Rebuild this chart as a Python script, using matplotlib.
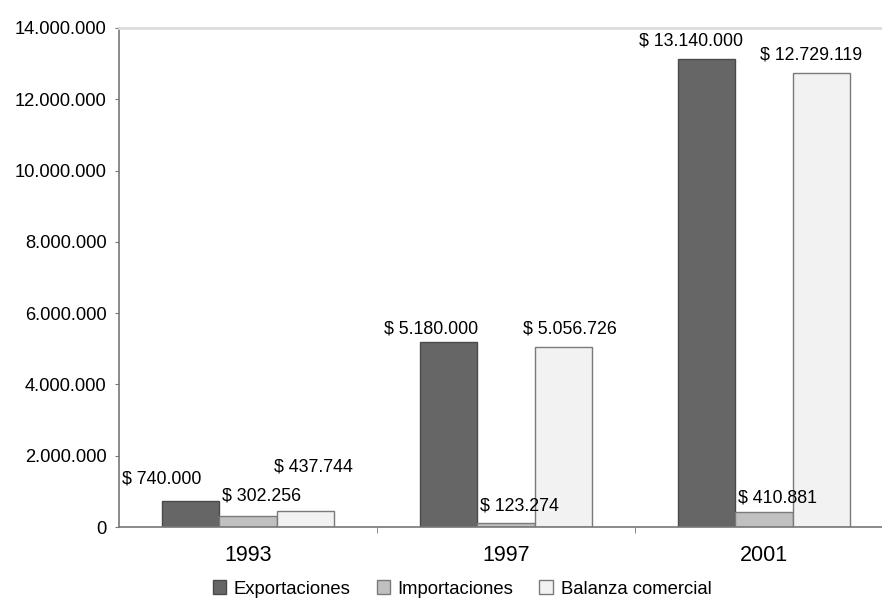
import matplotlib
matplotlib.use("Agg")
import matplotlib.pyplot as plt
from matplotlib.ticker import FuncFormatter, MultipleLocator
import numpy as np

years = ["1993", "1997", "2001"]
series_names = ["Exportaciones", "Importaciones", "Balanza comercial"]
exportaciones = [740000, 5180000, 13140000]
importaciones = [302256, 123274, 410881]
balanza = [437744, 5056726, 12729119]

colors = ["#666666", "#c0c0c0", "#f2f2f2"]
edges = ["#4a4a4a", "#7a7a7a", "#7a7a7a"]
# label offsets (pixels) relative to bar top-centre, per series per year
label_offsets = [
    [(-29, 22), (-17, 13), (-15, 18)],
    [(14, 20), (13, 17), (13, 14)],
    [(8, 44), (6, 18), (-10, 18)],
]

def fmt_thousands(v):
    return f"{int(round(v)):,}".replace(",", ".")

plt.rcParams["font.family"] = ["Liberation Sans", "DejaVu Sans"]

fig = plt.figure(figsize=(8.82, 6.01), dpi=100)
W, H = 882, 601
left, right, top, bottom = 119, 882, 28, 527
ax = fig.add_axes([left / W, 1 - bottom / H, (right - left) / W, (bottom - top) / H])

x = np.arange(len(years))
bw = 0.223
all_series = [exportaciones, importaciones, balanza]
for i, (vals, name) in enumerate(zip(all_series, series_names)):
    xs = x + (i - 1) * bw
    bars = ax.bar(xs, vals, width=bw, color=colors[i], edgecolor=edges[i],
                  linewidth=1.0, label=name, zorder=2)
    for j, (b, v) in enumerate(zip(bars, vals)):
        dx, dy = label_offsets[i][j]
        ax.annotate("$ " + fmt_thousands(v),
                    xy=(b.get_x() + b.get_width() / 2, v),
                    xytext=(dx, dy), textcoords="offset pixels",
                    ha="center", va="center", fontsize=12.8,
                    color="#000000", zorder=3)

ax.set_ylim(0, 14000000)
ax.set_xlim(-0.5, -0.5 + (right - left) / 258.0)
ax.yaxis.set_major_locator(MultipleLocator(2000000))
ax.yaxis.set_major_formatter(FuncFormatter(lambda v, p: fmt_thousands(v)))
ax.set_xticks(x)
ax.set_xticklabels(years)
ax.set_xticks([0.5, 1.5], minor=True)
ax.tick_params(axis="x", which="major", length=0, pad=13, labelsize=15.5, colors="#000000")
ax.tick_params(axis="x", which="minor", length=4, direction="out", color="#777777")
ax.tick_params(axis="y", length=3, direction="out", color="#777777", pad=6,
               labelsize=13.2, labelcolor="#000000")

ax.spines["right"].set_visible(False)
ax.spines["top"].set_color("#dddddd")
ax.spines["top"].set_linewidth(2)
ax.spines["left"].set_color("#777777")
ax.spines["bottom"].set_color("#777777")
ax.spines["left"].set_linewidth(1.2)
ax.spines["bottom"].set_linewidth(1.2)

leg = fig.legend(loc="center", bbox_to_anchor=(462 / W, 1 - 589 / H), ncol=3,
                 frameon=False, fontsize=13.3, handlelength=0.75, handleheight=0.75,
                 handletextpad=0.4, columnspacing=1.4)
for t in leg.get_texts():
    t.set_color("#000000")

fig.savefig("out.png", dpi=100)
